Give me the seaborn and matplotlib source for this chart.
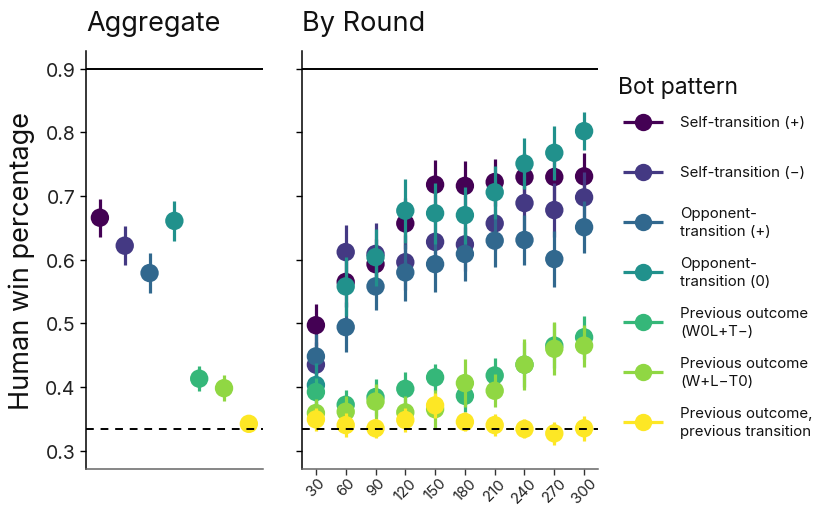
import numpy as np
import pandas as pd
import matplotlib
matplotlib.use("Agg")
import matplotlib.pyplot as plt
import seaborn as sns

# ---------------- data ----------------
patterns = [
    "Self-transition (+)",
    "Self-transition (\u2212)",
    "Opponent-\ntransition (+)",
    "Opponent-\ntransition (0)",
    "Previous outcome\n(W0L+T\u2212)",
    "Previous outcome\n(W+L\u2212T0)",
    "Previous outcome,\nprevious transition",
]
agg_mean = [0.666, 0.622, 0.579, 0.661, 0.413, 0.398, 0.342]
agg_err = [0.030, 0.031, 0.032, 0.031, 0.020, 0.020, 0.008]

rounds = [30, 60, 90, 120, 150, 180, 210, 240, 270, 300]
self_plus = [0.497, 0.565, 0.593, 0.657, 0.718, 0.716, 0.722, 0.730, 0.730, 0.731]
self_minus = [0.435, 0.612, 0.609, 0.596, 0.628, 0.624, 0.657, 0.689, 0.678, 0.698]
opp_plus = [0.448, 0.494, 0.558, 0.580, 0.593, 0.609, 0.630, 0.631, 0.601, 0.651]
opp_zero = [0.403, 0.558, 0.604, 0.677, 0.673, 0.670, 0.706, 0.751, 0.768, 0.802]
prev_w0l = [0.392, 0.372, 0.384, 0.397, 0.415, 0.386, 0.418, 0.435, 0.465, 0.478]
prev_wl = [0.359, 0.361, 0.377, 0.360, 0.365, 0.406, 0.394, 0.435, 0.460, 0.465]
prev_trans = [0.349, 0.340, 0.335, 0.348, 0.371, 0.345, 0.340, 0.334, 0.327, 0.335]

self_plus_err = [0.033, 0.040, 0.040, 0.040, 0.038, 0.039, 0.037, 0.038, 0.038, 0.037]
self_minus_err = [0.035, 0.042, 0.049, 0.043, 0.042, 0.042, 0.042, 0.042, 0.042, 0.040]
opp_plus_err = [0.035, 0.039, 0.037, 0.045, 0.044, 0.043, 0.041, 0.040, 0.044, 0.041]
opp_zero_err = [0.035, 0.047, 0.045, 0.050, 0.048, 0.045, 0.042, 0.040, 0.042, 0.030]
prev_w0l_err = [0.022, 0.023, 0.029, 0.027, 0.021, 0.025, 0.027, 0.035, 0.035, 0.034]
prev_wl_err = [0.022, 0.025, 0.028, 0.025, 0.030, 0.038, 0.026, 0.040, 0.042, 0.033]
prev_trans_err = [0.018, 0.019, 0.015, 0.019, 0.020, 0.015, 0.017, 0.015, 0.018, 0.020]

yticks = [0.3, 0.4, 0.5, 0.6, 0.7, 0.8, 0.9]
chance = 1 / 3
ceiling = 0.9

by_round_means = [self_plus, self_minus, opp_plus, opp_zero, prev_w0l, prev_wl, prev_trans]
by_round_errs = [self_plus_err, self_minus_err, opp_plus_err, opp_zero_err,
                 prev_w0l_err, prev_wl_err, prev_trans_err]

agg_df = pd.DataFrame({"pattern": patterns, "pos": np.arange(len(patterns)),
                       "mean": agg_mean, "err": agg_err})
rows = []
for p, m, e in zip(patterns, by_round_means, by_round_errs):
    for r, mv, ev in zip(rounds, m, e):
        rows.append({"pattern": p, "round": r, "mean": mv, "err": ev})
rd_df = pd.DataFrame(rows)

# ---------------- style ----------------
sns.set_theme(style="white")
plt.rcParams["font.family"] = ["Inter", "DejaVu Sans"]
palette = [matplotlib.colors.to_hex(c) for c in
           matplotlib.colormaps["viridis"](np.linspace(0, 1, len(patterns)))]
colors = dict(zip(patterns, palette))

fig = plt.figure(figsize=(8.14, 5.06), dpi=100)
ax1 = fig.add_axes([86 / 814, 36 / 506, 177 / 814, 418 / 506])
ax2 = fig.add_axes([302 / 814, 36 / 506, 296 / 814, 418 / 506])

ymin, ymax = 0.271, 0.928
msize = 175
elw = 2.3

# Aggregate panel
for i, p in enumerate(patterns):
    sub = agg_df[agg_df["pattern"] == p]
    ax1.vlines(sub["pos"], sub["mean"] - sub["err"], sub["mean"] + sub["err"],
               color=colors[p], lw=elw, zorder=3 + 2 * i)
    sns.scatterplot(data=sub, x="pos", y="mean", color=colors[p], s=msize,
                    edgecolor="none", linewidth=0, ax=ax1, zorder=4 + 2 * i, legend=False)
ax1.set_xlim(-0.56, 6.57)
ax1.set_xticks([])

# By round panel
for i, p in enumerate(patterns):
    sub = rd_df[rd_df["pattern"] == p]
    ax2.vlines(sub["round"], sub["mean"] - sub["err"], sub["mean"] + sub["err"],
               color=colors[p], lw=elw, zorder=3 + 2 * i)
    sns.scatterplot(data=sub, x="round", y="mean", color=colors[p], s=msize,
                    edgecolor="none", linewidth=0, ax=ax2, zorder=4 + 2 * i, legend=False)
ax2.set_xlim(16, 314)
ax2.set_xticks(rounds)
ax2.set_xticklabels([str(r) for r in rounds], rotation=45, fontsize=10.8,
                    color="#222222", ha="center", va="top")

for ax in (ax1, ax2):
    ax.axhline(ceiling, color="black", lw=1.4, zorder=1)
    ax.axhline(chance, color="black", lw=1.4, ls=(0, (4, 3.5)), zorder=20)
    ax.set_ylim(ymin, ymax)
    ax.set_yticks(yticks)
    ax.set_xlabel("")
    ax.set_ylabel("")
    for s in ("top", "right"):
        ax.spines[s].set_visible(False)
    ax.spines["left"].set_color("black")
    ax.spines["left"].set_linewidth(1.1)
    ax.spines["bottom"].set_color("#666666")
    ax.spines["bottom"].set_linewidth(1.1)
    ax.tick_params(axis="y", direction="out", length=4, width=1, color="black",
                   left=True)
    ax.tick_params(axis="x", direction="out", length=4, width=1, color="#333333",
                   bottom=True, pad=0.5)
    ax.grid(False)

ax1.set_yticklabels([f"{t:.1f}" for t in yticks], fontsize=14, color="#222222")
ax2.set_yticklabels([])
ax1.set_ylabel("Human win percentage", fontsize=19.5, color="#111111", labelpad=7)

ax1.set_title("Aggregate", loc="left", fontsize=19.5, pad=15, color="#111111")
ax2.set_title("By Round", loc="left", fontsize=19.5, pad=15, color="#111111")

# ---------------- legend (pixel-based overlay) ----------------
lax = fig.add_axes([0, 0, 1, 1], facecolor="none")
lax.set_xlim(0, 814)
lax.set_ylim(506, 0)
lax.axis("off")
lax.text(618, 88, "Bot pattern", fontsize=16.5, va="center", ha="left", color="#111111")
for i, p in enumerate(patterns):
    yy = 123 + 50 * i
    lax.plot([623, 663], [yy, yy], color=colors[p], lw=2.3, solid_capstyle="butt")
    lax.plot([643], [yy], marker="o", markersize=12.5, color=colors[p],
             markeredgewidth=0, linestyle="none")
    lax.text(680, yy, p, fontsize=10.8, va="center", ha="left", color="#111111",
             linespacing=1.3)

fig.savefig("out.png", dpi=100)
